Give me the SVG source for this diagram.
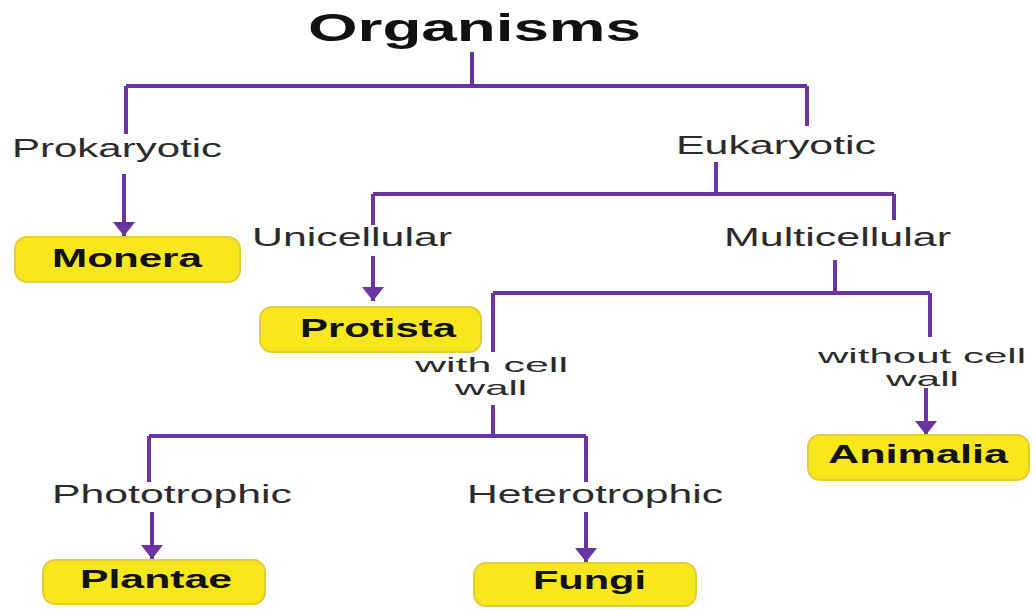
<svg xmlns="http://www.w3.org/2000/svg" width="1036" height="610" viewBox="0 0 1036 610">
<defs>
<style>
.ln{fill:none;stroke:#6b34a3;stroke-width:4;stroke-linecap:butt;stroke-linejoin:miter}
.lbl{font-family:"Liberation Sans",Arial,sans-serif;font-size:25px;fill:#2b2b2b}
.sm{font-size:21px}
.bx{fill:#f8e71c;stroke:#e3cc3a;stroke-width:2}
.bt{font-family:"Liberation Sans",Arial,sans-serif;font-size:26px;font-weight:bold;fill:#111}
.ttl{font-family:"Liberation Sans",Arial,sans-serif;font-size:38px;font-weight:bold;fill:#111}
</style>
<marker id="ah" markerUnits="userSpaceOnUse" markerWidth="16" markerHeight="24" refX="14" refY="12" orient="auto" viewBox="0 0 16 24">
<path d="M0,1 L14,12 L0,23 z" fill="#6b34a3"/>
</marker>
</defs>
<rect width="1036" height="610" fill="#ffffff"/>

<g id="connectors">
<path class="ln" d="M472,52 V86 M126,86 H807 M126,86 V134 M807,86 V126"/>
<path class="ln" d="M124,174 V236" marker-end="url(#ah)"/>
<path class="ln" d="M716,162 V194 M373,194 H894 M373,194 V225 M894,194 V220"/>
<path class="ln" d="M373,256 V301" marker-end="url(#ah)"/>
<path class="ln" d="M835,260 V293 M493,293 H930 M493,293 V352 M930,293 V337"/>
<path class="ln" d="M926,388 V435" marker-end="url(#ah)"/>
<path class="ln" d="M493,405 V436 M149,436 H586 M149,436 V482 M586,436 V482"/>
<path class="ln" d="M152,512 V559" marker-end="url(#ah)"/>
<path class="ln" d="M586,512 V562" marker-end="url(#ah)"/>
</g>

<g id="title"><text class="ttl" x="308" y="41" textLength="333" lengthAdjust="spacingAndGlyphs">Organisms</text></g>

<g id="label-prokaryotic"><text class="lbl" x="12" y="157" textLength="210" lengthAdjust="spacingAndGlyphs">Prokaryotic</text></g>
<g id="label-eukaryotic"><text class="lbl" x="676" y="154" textLength="200" lengthAdjust="spacingAndGlyphs">Eukaryotic</text></g>
<g id="label-unicellular"><text class="lbl" x="252" y="246" textLength="200" lengthAdjust="spacingAndGlyphs">Unicellular</text></g>
<g id="label-multicellular"><text class="lbl" x="724" y="246" textLength="227" lengthAdjust="spacingAndGlyphs">Multicellular</text></g>
<g id="label-withcellwall">
<text class="lbl sm" x="415" y="372" textLength="153" lengthAdjust="spacingAndGlyphs">with cell</text>
<text class="lbl sm" x="455" y="395" textLength="72" lengthAdjust="spacingAndGlyphs">wall</text>
</g>
<g id="label-withoutcellwall">
<text class="lbl sm" x="818" y="363" textLength="208" lengthAdjust="spacingAndGlyphs">without cell</text>
<text class="lbl sm" x="886" y="386" textLength="73" lengthAdjust="spacingAndGlyphs">wall</text>
</g>
<g id="label-phototrophic"><text class="lbl" x="52" y="503" textLength="240" lengthAdjust="spacingAndGlyphs">Phototrophic</text></g>
<g id="label-heterotrophic"><text class="lbl" x="467" y="503" textLength="256" lengthAdjust="spacingAndGlyphs">Heterotrophic</text></g>

<g id="node-monera">
<rect class="bx" x="15" y="237" width="225" height="45" rx="12"/>
<text class="bt" x="52" y="267" textLength="150" lengthAdjust="spacingAndGlyphs">Monera</text>
</g>
<g id="node-protista">
<rect class="bx" x="260" y="307" width="221" height="45" rx="12"/>
<text class="bt" x="300" y="337" textLength="156" lengthAdjust="spacingAndGlyphs">Protista</text>
</g>
<g id="node-animalia">
<rect class="bx" x="808" y="435" width="221" height="45" rx="12"/>
<text class="bt" x="828" y="463" textLength="180" lengthAdjust="spacingAndGlyphs">Animalia</text>
</g>
<g id="node-plantae">
<rect class="bx" x="43" y="560" width="222" height="44" rx="12"/>
<text class="bt" x="80" y="588" textLength="152" lengthAdjust="spacingAndGlyphs">Plantae</text>
</g>
<g id="node-fungi">
<rect class="bx" x="474" y="563" width="222" height="43" rx="12"/>
<text class="bt" x="533" y="589" textLength="113" lengthAdjust="spacingAndGlyphs">Fungi</text>
</g>
</svg>
